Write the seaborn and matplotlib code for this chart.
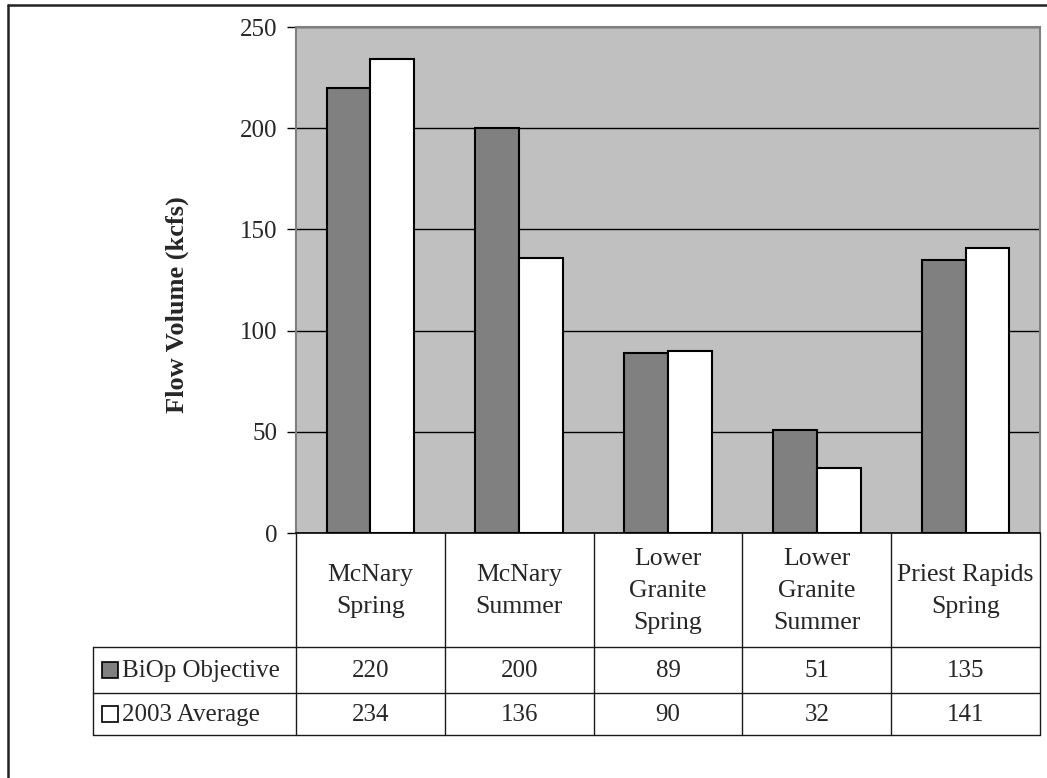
import matplotlib.pyplot as plt
import matplotlib.transforms as mtransforms
from matplotlib.patches import Rectangle
from matplotlib.lines import Line2D
import pandas as pd
import seaborn as sns

sites = ["McNary\nSpring", "McNary\nSummer", "Lower\nGranite\nSpring",
         "Lower\nGranite\nSummer", "Priest Rapids\nSpring"]
series = ["BiOp Objective", "2003 Average"]
biop = [220, 200, 89, 51, 135]
avg_2003 = [234, 136, 90, 32, 141]
colors = {"BiOp Objective": "#808080", "2003 Average": "#FFFFFF"}

df = pd.DataFrame({
    "site": sites * 2,
    "series": [series[0]] * len(sites) + [series[1]] * len(sites),
    "flow": biop + avg_2003,
})

sns.set_style("white")
plt.rcParams["font.family"] = ["Liberation Serif", "DejaVu Serif"]

W, H = 1047, 778
fig = plt.figure(figsize=(W / 100, H / 100), dpi=100)
fig.set_facecolor("white")


def fx(px):
    return px / W


def fy(py):
    return 1 - py / H


ax_left, ax_right, ax_top, ax_bot = 296, 1040, 27, 533
ax = fig.add_axes([fx(ax_left), fy(ax_bot), fx(ax_right - ax_left), (ax_bot - ax_top) / H])
ax.set_facecolor("#C0C0C0")

sns.barplot(
    data=df, x="site", y="flow", hue="series", hue_order=series,
    palette=colors, edgecolor="black", linewidth=1.5,
    width=0.59, gap=0, legend=False, ax=ax, zorder=3,
)

ax.set_xlim(-0.5, len(sites) - 0.5)
ax.set_ylim(0, 250)
ax.set_yticks([0, 50, 100, 150, 200, 250])
ax.set_axisbelow(True)
ax.yaxis.grid(True, color="black", linewidth=1)
ax.set_xticks([])
ax.set_xlabel("")
ax.set_ylabel("")
ax.tick_params(axis="y", labelsize=18, length=6.5, width=1, color="black",
               pad=7, left=True)
for name in ["top", "right", "left"]:
    ax.spines[name].set_color("#808080")
    ax.spines[name].set_linewidth(1.5)
ax.spines["bottom"].set_color("black")
ax.spines["bottom"].set_linewidth(1.2)

fig.text(fx(177), fy(305), "Flow Volume (kcfs)", rotation=90, ha="center",
         va="center", fontsize=19, fontweight="bold")

# data table below the plot
trans = mtransforms.blended_transform_factory(ax.transData, fig.transFigure)
y_head_bot, y_row1_bot, y_row2_bot = 647, 693, 735
label_left = 93
lc = "#1a1a1a"
lw = 1.0

for b in range(len(sites) + 1):
    xb = b - 0.5
    fig.add_artist(Line2D([xb, xb], [fy(ax_bot), fy(y_row2_bot)],
                          transform=trans, color=lc, linewidth=lw))
for yy in [y_head_bot, y_row1_bot, y_row2_bot]:
    fig.add_artist(Line2D([fx(label_left), fx(ax_right)], [fy(yy), fy(yy)],
                          color=lc, linewidth=lw))
fig.add_artist(Line2D([fx(label_left), fx(label_left)],
                      [fy(y_head_bot), fy(y_row2_bot)], color=lc, linewidth=lw))

for i, name in enumerate(sites):
    fig.text(i, fy((ax_bot + y_head_bot) / 2 + 1), name, transform=trans,
             ha="center", va="center", fontsize=18.5, linespacing=1.6)

row_centers = [(y_head_bot + y_row1_bot) / 2, (y_row1_bot + y_row2_bot) / 2]
for vals, yc in zip([biop, avg_2003], row_centers):
    for i, v in enumerate(vals):
        fig.text(i, fy(yc + 1), str(v), transform=trans, ha="center",
                 va="center", fontsize=18)

key = 16
for s, yc in zip(series, row_centers):
    fig.add_artist(Rectangle((fx(102), fy(yc + key / 2)), fx(key), key / H,
                             facecolor=colors[s], edgecolor="black",
                             linewidth=1.2, transform=fig.transFigure))
    fig.text(fx(122), fy(yc + 1), s, ha="left", va="center", fontsize=18)

# outer chart border (top and left visible)
fig.add_artist(Line2D([fx(8), 1.0], [fy(5), fy(5)], color="#222222", linewidth=1.8))
fig.add_artist(Line2D([fx(8), fx(8)], [fy(5), 0.0], color="#222222", linewidth=1.8))

fig.savefig("out.png", dpi=100, facecolor="white")
